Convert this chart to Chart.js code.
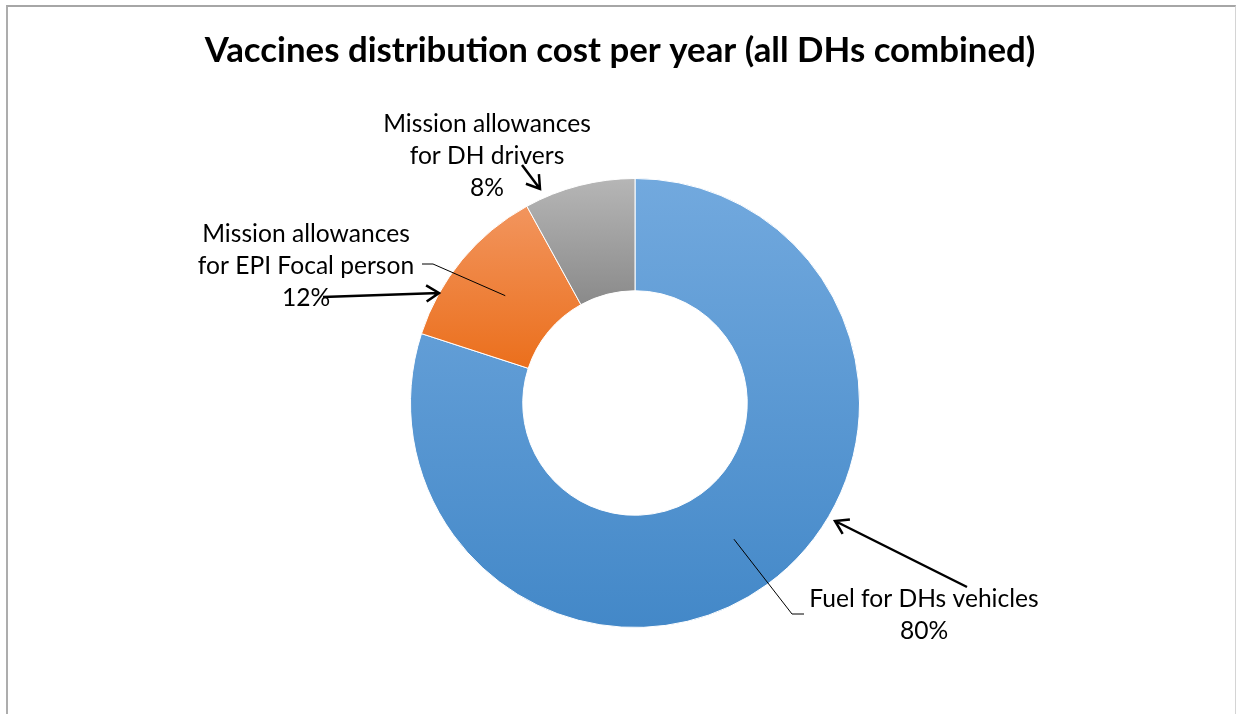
<!DOCTYPE html>
<html>
<head>
<meta charset="utf-8">
<title>Vaccines distribution cost per year</title>
<script src="https://cdn.jsdelivr.net/npm/chart.js@4.4.1/dist/chart.umd.min.js"></script>
<style>
    html, body { margin: 0; padding: 0; background: #fff; }
    .frame {
        position: absolute; left: 6px; top: 5px; width: 1230px; height: 730px;
        box-sizing: border-box;
        border-top: 2px solid #a6a6a6;
        border-left: 2px solid #adadad;
        border-right: 1px solid #d4d4d4;
    }
    #wrap { position: absolute; left: 0; top: 0; width: 1236px; height: 714px; }
</style>
</head>
<body>
<div class="frame"></div>
<div id="wrap"><canvas id="costChart"></canvas></div>
<script>
// Chart data
const chartTitle = 'Vaccines distribution cost per year (all DHs combined)';
const categories = [
    ['Fuel for DHs vehicles'],
    ['Mission allowances', 'for EPI Focal person'],
    ['Mission allowances', 'for DH drivers']
];
const costShares = [80, 12, 8];

// Gradient colours (top, bottom) for each slice
const sliceColors = [
    ['#72a9de', '#4388c8'],
    ['#f2955e', '#eb6f1c'],
    ['#b6b6b6', '#8a8a8a']
];

// Label / leader / arrow placement, offsets from the doughnut centre
const labelPlacement = [
    { x: 289, y: 204, leader: [[157, 211], [169, 211]], arrow: [[332, 184], [200, 118]] },
    { x: -329, y: -161, leader: [[-202, -139], [-213, -139]], arrow: [[-312, -106], [-196, -110]] },
    { x: -148, y: -271, leader: null, arrow: [[-113, -238], [-95, -214]] }
];

const LABEL_FONT = '24.6px Lato';
const TITLE_FONT = 'bold 34.8px Lato';
const LINE_GAP = 32;

// Vertical gradient spanning the slice's own extent
function sliceGradient(context) {
    const chart = context.chart;
    const area = chart.chartArea;
    const i = context.dataIndex;
    if (!area) return sliceColors[i][1];
    const cx = (area.left + area.right) / 2;
    const cy = (area.top + area.bottom) / 2;
    const outer = Math.min(area.width, area.height) / 2;
    const inner = outer * 0.5;
    const total = costShares.reduce((a, b) => a + b, 0);
    let start = 0;
    for (let k = 0; k < i; k++) start += costShares[k] / total * Math.PI * 2;
    const end = start + costShares[i] / total * Math.PI * 2;
    let minY = Infinity, maxY = -Infinity;
    for (let s = 0; s <= 60; s++) {
        const a = start + (end - start) * s / 60 - Math.PI / 2;
        [outer, inner].forEach(r => {
            const y = cy + Math.sin(a) * r;
            minY = Math.min(minY, y);
            maxY = Math.max(maxY, y);
        });
    }
    const g = chart.ctx.createLinearGradient(0, minY, 0, maxY);
    g.addColorStop(0, sliceColors[i][0]);
    g.addColorStop(1, sliceColors[i][1]);
    return g;
}

function drawArrow(ctx, from, to) {
    const ang = Math.atan2(to[1] - from[1], to[0] - from[0]);
    const head = 15, spread = Math.PI / 5.5;
    ctx.beginPath();
    ctx.moveTo(from[0], from[1]);
    ctx.lineTo(to[0], to[1]);
    ctx.moveTo(to[0] - head * Math.cos(ang - spread), to[1] - head * Math.sin(ang - spread));
    ctx.lineTo(to[0], to[1]);
    ctx.lineTo(to[0] - head * Math.cos(ang + spread), to[1] - head * Math.sin(ang + spread));
    ctx.stroke();
}

// Title, data labels, leader lines and arrows
const annotationPlugin = {
    id: 'sliceAnnotations',
    afterDraw(chart) {
        const ctx = chart.ctx;
        const arcs = chart.getDatasetMeta(0).data;
        const cx = arcs[0].x, cy = arcs[0].y;
        const total = costShares.reduce((a, b) => a + b, 0);
        ctx.save();
        ctx.fillStyle = '#000';
        ctx.textAlign = 'center';
        ctx.textBaseline = 'alphabetic';
        ctx.font = TITLE_FONT;
        ctx.fillText(chartTitle, 620, 62);

        ctx.font = LABEL_FONT;
        arcs.forEach((arc, i) => {
            const place = labelPlacement[i];
            const lines = categories[i].concat(Math.round(costShares[i] / total * 100) + '%');
            lines.forEach((t, k) => ctx.fillText(t, cx + place.x, cy + place.y + k * LINE_GAP));

            if (place.leader) {
                const p = arc.tooltipPosition();
                ctx.strokeStyle = '#000';
                ctx.lineWidth = 1;
                ctx.beginPath();
                ctx.moveTo(p.x, p.y);
                place.leader.forEach(pt => ctx.lineTo(cx + pt[0], cy + pt[1]));
                ctx.stroke();
            }
            if (place.arrow) {
                ctx.strokeStyle = '#000';
                ctx.lineWidth = 2.5;
                drawArrow(ctx,
                    [cx + place.arrow[0][0], cy + place.arrow[0][1]],
                    [cx + place.arrow[1][0], cy + place.arrow[1][1]]);
            }
        });
        ctx.restore();
    }
};

const ctxDonut = document.getElementById('costChart').getContext('2d');
new Chart(ctxDonut, {
    type: 'doughnut',
    data: {
        labels: categories,
        datasets: [{
            data: costShares,
            backgroundColor: sliceGradient,
            borderColor: '#ffffff',
            borderWidth: 1,
            hoverOffset: 0
        }]
    },
    options: {
        responsive: true,
        maintainAspectRatio: false,
        animation: false,
        cutout: '50%',
        layout: { padding: { top: 178, bottom: 86, left: 300, right: 266 } },
        plugins: {
            legend: { display: false },
            tooltip: { enabled: false },
            title: { display: false }
        }
    },
    plugins: [annotationPlugin]
});
</script>
</body>
</html>
